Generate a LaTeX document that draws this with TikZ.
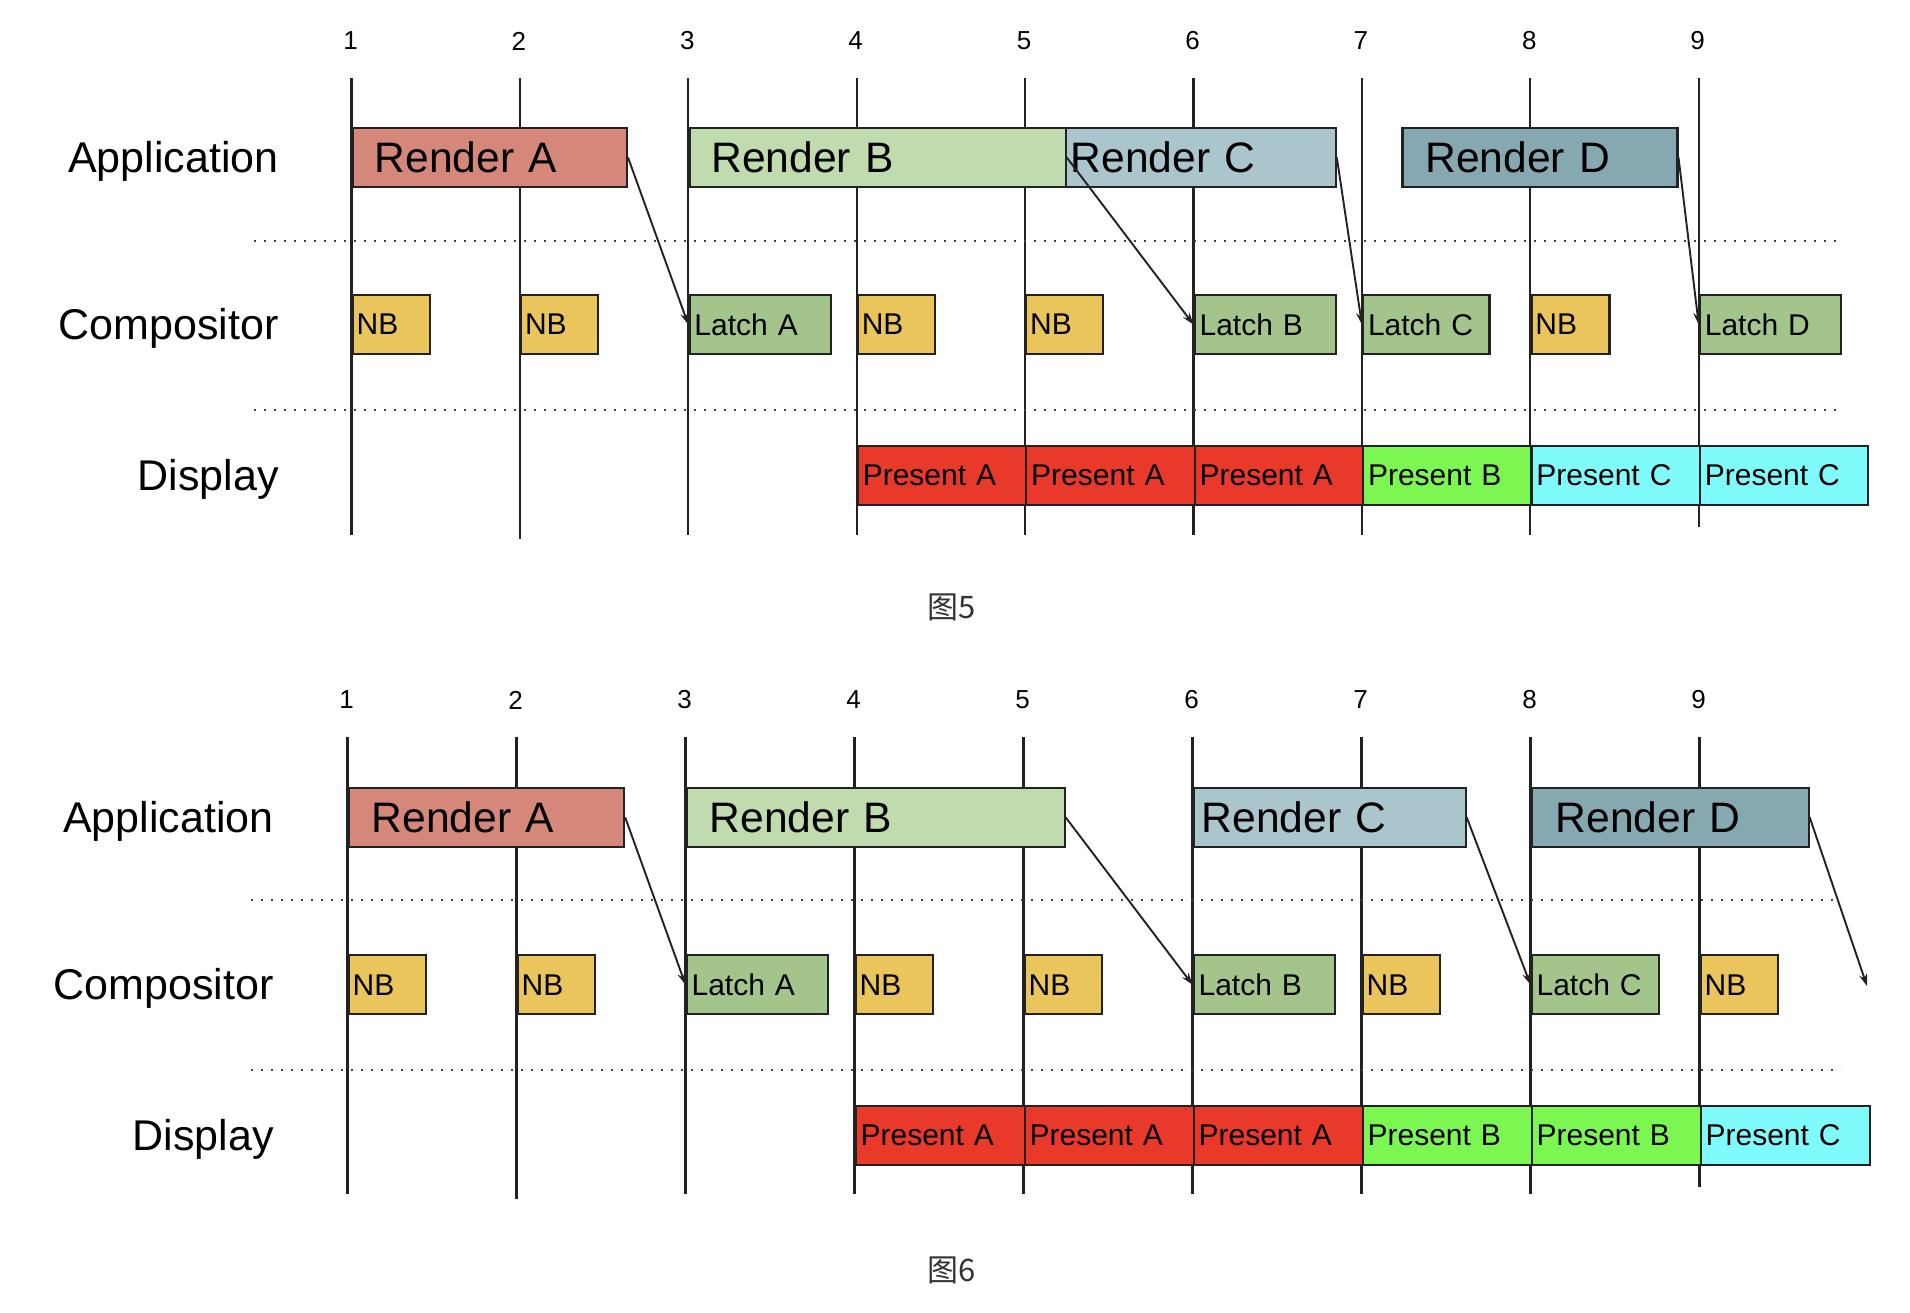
\documentclass[tikz,border=0pt]{standalone}
\usepackage{fontspec}
\setmainfont{Liberation Sans}
\newfontfamily\cjk{Noto Sans CJK SC}
\usetikzlibrary{arrows.meta}
\definecolor{rA}{HTML}{D5877A}
\definecolor{rB}{HTML}{C0DBAE}
\definecolor{rC}{HTML}{AAC5CB}
\definecolor{rD}{HTML}{86A8B0}
\definecolor{latch}{HTML}{A3C58C}
\definecolor{nb}{HTML}{E9C55B}
\definecolor{pA}{HTML}{E8392B}
\definecolor{pB}{HTML}{7CF752}
\definecolor{pC}{HTML}{80FBFB}
\definecolor{ink}{HTML}{222222}
\newcommand\mybox[8]{%
  \pgfmathsetmacro\boxtw{(#4-2*#5)*0.5}%
  \pgfmathsetmacro\boxpad{#5*0.5}%
  \node[box,#7,fill=#6,text width=\boxtw pt,inner xsep=\boxpad pt] (#1) at (#2,#3) {#8};}
\tikzset{
  box/.style={draw=ink, line width=1.1pt, anchor=west, minimum height=29.5pt, inner ysep=0pt, align=left},
  big/.style={font=\fontsize{21.3}{24}\selectfont},
  small/.style={font=\fontsize{15}{18}\selectfont},
  rowlabel/.style={font=\fontsize{21.5}{24}\selectfont, anchor=base east, inner sep=0pt},
  num/.style={font=\fontsize{13}{15}\selectfont, inner sep=0pt},
  vline/.style={line width=1.15pt, draw=ink},
  sepline/.style={draw=black!75, line width=1.3pt, dash pattern=on 1pt off 4pt},
  link/.style={draw=ink, line width=0.95pt, -{Stealth[length=6pt,width=4pt]}},
  caption/.style={font=\cjk\fontsize{15.5}{18}\selectfont, text=black!80, inner sep=0pt},
}
\begin{document}
\begin{tikzpicture}[x=0.5pt,y=-0.5pt]
\useasboundingbox[fill=white] (0,0) rectangle (1910,1312);

% ================= Figure 5 (top) =================
\foreach \i/\b in {1/535,2/539,3/535,4/535,5/535,6/535,7/535,8/535,9/527}{
  \pgfmathsetmacro\xx{351.5+168.4*(\i-1)}
  \coordinate (tl\i) at (\xx,78);
  \draw[vline] (tl\i) -- (\xx,\b);
  \node[num] (tn\i) at (\xx-1,41) {\i};
}
\coordinate (tsa) at (254,241); \coordinate (tsb) at (1841,241);
\coordinate (tsc) at (254,410); \coordinate (tsd) at (1841,410);
\draw[sepline] (tsa) -- (tsb);
\draw[sepline] (tsc) -- (tsd);

\node[rowlabel] (tlabA) at (279,172.4) {Application};
\node[rowlabel] (tlabC) at (279,339.6) {Compositor};
\node[rowlabel] (tlabD) at (279,490.5) {Display};

\mybox{tRA}{351.5}{157.4}{274.3}{22}{rA}{big}{Render A}
\mybox{tRB}{688.3}{157.4}{376.2}{22}{rB}{big}{Render B}
\mybox{tRC}{1064.5}{157.4}{270.1}{5}{rC}{big}{Render C}
\mybox{tRD}{1401.3}{157.4}{275}{23}{rD}{big}{Render D}

\mybox{tN1}{351.5}{324.6}{77}{4}{nb}{small}{NB}
\mybox{tN2}{519.9}{324.6}{77}{4}{nb}{small}{NB}
\mybox{tLA}{688.3}{324.6}{141.4}{5}{latch}{small}{Latch A}
\mybox{tN4}{856.7}{324.6}{77}{4}{nb}{small}{NB}
\mybox{tN5}{1025.1}{324.6}{77}{4}{nb}{small}{NB}
\mybox{tLB}{1193.5}{324.6}{141}{5}{latch}{small}{Latch B}
\mybox{tLC}{1361.9}{324.6}{126.5}{5}{latch}{small}{Latch C}
\mybox{tN8}{1530.3}{324.6}{78}{4}{nb}{small}{NB}
\mybox{tLD}{1698.7}{324.6}{141}{5}{latch}{small}{Latch D}

\mybox{tP4}{856.7}{475.5}{168.4}{5}{pA}{small}{Present A}
\mybox{tP5}{1025.1}{475.5}{168.4}{5}{pA}{small}{Present A}
\mybox{tP6}{1193.5}{475.5}{168.4}{5}{pA}{small}{Present A}
\mybox{tP7}{1361.9}{475.5}{168.4}{5}{pB}{small}{Present B}
\mybox{tP8}{1530.3}{475.5}{168.4}{5}{pC}{small}{Present C}
\mybox{tP9}{1698.7}{475.5}{168.4}{5}{pC}{small}{Present C}

\draw[link] (tRA.east) -- (tLA.west);
\draw[link] (tRB.east) -- (tLB.west);
\draw[link] (tRC.east) -- (tLC.west);
\draw[link] (tRD.east) -- (tLD.west);

\node[caption] (cap5) at (952,607) {图5};

% ================= Figure 6 (bottom) =================
\foreach \i/\b in {1/1194,2/1199,3/1194,4/1194,5/1194,6/1194,7/1194,8/1194,9/1187}{
  \pgfmathsetmacro\xx{347.5+169*(\i-1)}
  \coordinate (bl\i) at (\xx,737);
  \draw[vline] (bl\i) -- (\xx,\b);
  \node[num] (bn\i) at (\xx-1,700) {\i};
}
\coordinate (bsa) at (251,900); \coordinate (bsb) at (1841,900);
\coordinate (bsc) at (251,1070); \coordinate (bsd) at (1841,1070);
\draw[sepline] (bsa) -- (bsb);
\draw[sepline] (bsc) -- (bsd);

\node[rowlabel] (blabA) at (274,832.4) {Application};
\node[rowlabel] (blabC) at (274,999.7) {Compositor};
\node[rowlabel] (blabD) at (274,1150.4) {Display};

\mybox{bRA}{347.5}{817.4}{275.5}{23}{rA}{big}{Render A}
\mybox{bRB}{685.5}{817.4}{378}{23}{rB}{big}{Render B}
\mybox{bRC}{1192.5}{817.4}{272}{8}{rC}{big}{Render C}
\mybox{bRD}{1530.5}{817.4}{277}{24}{rD}{big}{Render D}

\mybox{bN1}{347.5}{984.7}{77}{4}{nb}{small}{NB}
\mybox{bN2}{516.5}{984.7}{77}{4}{nb}{small}{NB}
\mybox{bLA}{685.5}{984.7}{141.5}{5}{latch}{small}{Latch A}
\mybox{bN4}{854.5}{984.7}{77}{4}{nb}{small}{NB}
\mybox{bN5}{1023.5}{984.7}{77}{4}{nb}{small}{NB}
\mybox{bLB}{1192.5}{984.7}{141.5}{5}{latch}{small}{Latch B}
\mybox{bN7}{1361.5}{984.7}{77}{4}{nb}{small}{NB}
\mybox{bLC}{1530.5}{984.7}{127}{5}{latch}{small}{Latch C}
\mybox{bN9}{1699.5}{984.7}{77}{4}{nb}{small}{NB}

\mybox{bP4}{854.5}{1135.4}{169}{5}{pA}{small}{Present A}
\mybox{bP5}{1023.5}{1135.4}{169}{5}{pA}{small}{Present A}
\mybox{bP6}{1192.5}{1135.4}{169}{5}{pA}{small}{Present A}
\mybox{bP7}{1361.5}{1135.4}{169}{5}{pB}{small}{Present B}
\mybox{bP8}{1530.5}{1135.4}{169}{5}{pB}{small}{Present B}
\mybox{bP9}{1699.5}{1135.4}{169}{5}{pC}{small}{Present C}

\coordinate (bend) at (1867,986);
\draw[link] (bRA.east) -- (bLA.west);
\draw[link] (bRB.east) -- (bLB.west);
\draw[link] (bRC.east) -- (bLC.west);
\draw[link] (bRD.east) -- (bend);

\node[caption] (cap6) at (952,1270) {图6};
\end{tikzpicture}
\end{document}
